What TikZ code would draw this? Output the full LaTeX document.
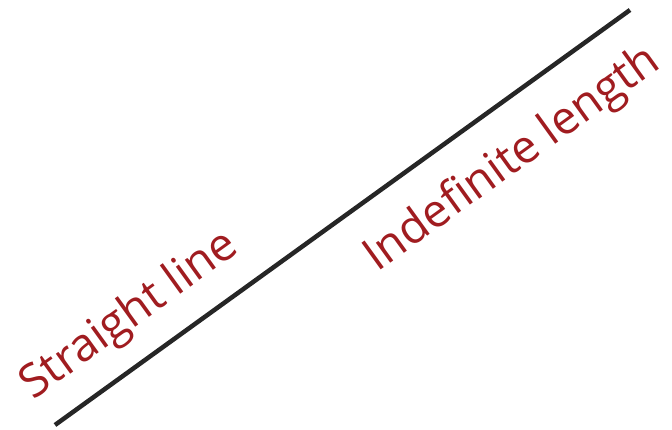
\documentclass[tikz,border=0pt]{standalone}
\usepackage{fontspec}
\setmainfont{Open Sans}
\usepackage{tikz}
\definecolor{rotulo}{RGB}{160,28,32}

\begin{document}
\begin{tikzpicture}[x=1pt, y=1pt,
    etiqueta/.style={font=\fontsize{46}{52}\selectfont, text=rotulo, rotate=35.8, inner sep=0pt}]
        \useasboundingbox (0,0) rectangle (672,430);
        % recta
        \coordinate (inicio) at (55,5);
        \coordinate (fin) at (630,420);
        \draw[black!85, line width=4.5pt] (inicio) -- (fin);
        % rotulos
        \node[etiqueta] (recta) at (130,114) {Straight line};
        \node[etiqueta] (longitud) at (513,270) {Indefinite length};
      \end{tikzpicture}
\end{document}
